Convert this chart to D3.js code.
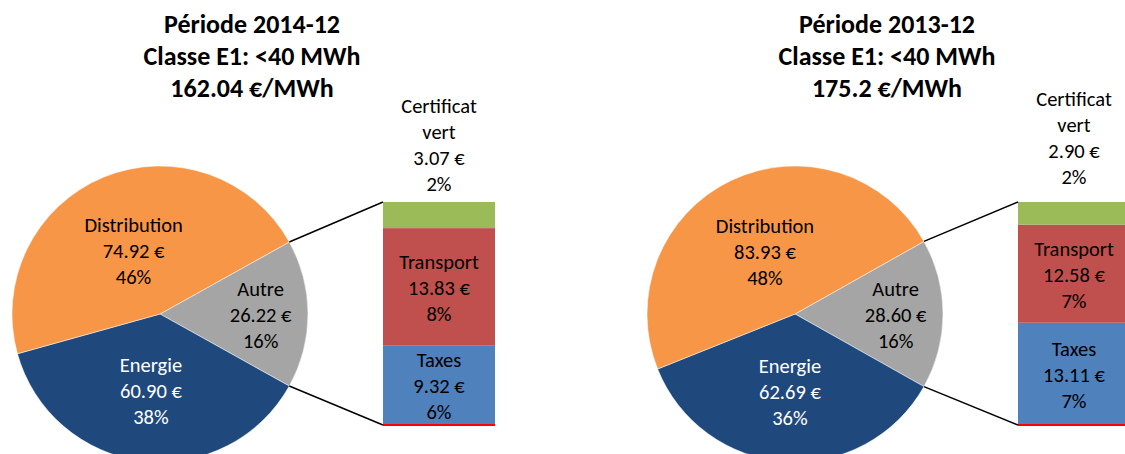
<!DOCTYPE html>
<html>
<head>
<meta charset="utf-8">
<script src="https://d3js.org/d3.v7.min.js"></script>
<style>
  body { margin: 0; background: white; }
  text { font-family: Calibri, Carlito, Lato, "Liberation Sans", sans-serif; }
</style>
</head>
<body>
<svg id="chart" width="1125" height="454"></svg>
<script>
// pie categories (Autre is exploded into the bar)
var categories = ["Autre", "Energie", "Distribution"];
var values2014 = [26.22, 60.90, 74.92];
var values2013 = [28.60, 62.69, 83.93];
var pct2014 = ["16%", "38%", "46%"];
var pct2013 = ["16%", "36%", "48%"];

// bar categories, bottom to top
var barCategories = ["Taxes", "Transport", "Certificat vert"];
var bar2014 = [9.32, 13.83, 3.07];
var bar2013 = [13.11, 12.58, 2.90];
var barPct2014 = ["6%", "8%", "2%"];
var barPct2013 = ["7%", "7%", "2%"];

var titles2014 = ["Période 2014-12", "Classe E1: <40 MWh", "162.04 €/MWh"];
var titles2013 = ["Période 2013-12", "Classe E1: <40 MWh", "175.2 €/MWh"];

var colors = {
  "Distribution": "#F79646", "Energie": "#1F497D", "Autre": "#A5A5A5",
  "Taxes": "#4F81BD", "Transport": "#C0504D", "Certificat vert": "#9BBB59"
};
var textColors = { "Energie": "white" };
// how far out from the centre the pie labels sit (fraction of radius)
var labelRadius = { "Distribution": 0.47, "Energie": 0.52, "Autre": 0.68 };

var svg = d3.select("#chart");
var fmt = d3.format(".2f");
var R = 148, cy = 314, FS = 20.5, LH = 26;

function drawChart(cx, titles, values, pcts, barVals, barPcts, certShift) {
  var g = svg.append("g");

  // title
  var t = g.append("text").attr("text-anchor", "middle")
    .attr("font-size", 26).attr("font-weight", "bold");
  titles.forEach(function(s, i) {
    t.append("tspan").attr("x", cx + 92).attr("y", 33 + i * 32).text(s);
  });

  // pie, Autre centred on 3 o'clock
  var autreAngle = 2 * Math.PI * values[0] / d3.sum(values);
  var start = Math.PI / 2 - autreAngle / 2;
  var pie = d3.pie().sort(null).startAngle(start).endAngle(start + 2 * Math.PI);
  var arcs = pie(values);
  var arc = d3.arc().innerRadius(0).outerRadius(R);

  var pg = g.append("g").attr("transform", "translate(" + cx + "," + cy + ")");
  pg.selectAll("path").data(arcs).enter().append("path")
    .attr("d", arc)
    .attr("fill", function(d, i) { return colors[categories[i]]; })
    .attr("stroke", "white").attr("stroke-width", 0.5);

  pg.selectAll("text.lbl").data(arcs).enter().append("text")
    .attr("class", "lbl")
    .attr("text-anchor", "middle").attr("font-size", FS)
    .attr("fill", function(d, i) { return textColors[categories[i]] || "black"; })
    .each(function(d, i) {
      var lr = labelRadius[categories[i]] * R;
      var c = d3.arc().innerRadius(lr).outerRadius(lr).centroid(d);
      var el = d3.select(this);
      [categories[i], fmt(d.data) + " €", pcts[i]].forEach(function(s, k) {
        el.append("tspan").attr("x", c[0]).attr("y", c[1] + 8 + (k - 1) * LH).text(s);
      });
    });

  // stacked bar
  var bx = cx + 223, bw = 112;
  var y = d3.scaleLinear().domain([0, d3.sum(barVals)]).range([425, 202]);
  var cum = 0;
  var stack = barVals.map(function(v, i) {
    var o = { name: barCategories[i], v0: cum, v1: cum + v, v: v, pct: barPcts[i] };
    cum += v;
    return o;
  });
  g.selectAll("rect.seg").data(stack).enter().append("rect")
    .attr("class", "seg")
    .attr("x", bx).attr("width", bw)
    .attr("y", function(d) { return y(d.v1); })
    .attr("height", function(d) { return y(d.v0) - y(d.v1); })
    .attr("fill", function(d) { return colors[d.name]; });

  g.append("line").attr("x1", bx).attr("x2", bx + bw)
    .attr("y1", y(0)).attr("y2", y(0))
    .attr("stroke", "#FF0000").attr("stroke-width", 2);

  stack.forEach(function(d) {
    var el = g.append("text").attr("text-anchor", "middle").attr("font-size", FS).attr("fill", "black");
    var lines = d.name === "Certificat vert"
      ? ["Certificat", "vert", fmt(d.v) + " €", d.pct]
      : [d.name, fmt(d.v) + " €", d.pct];
    var baseY;
    if (d.name === "Certificat vert") {
      baseY = y(d.v1) - 11 - certShift - (lines.length - 1) * LH;
    } else {
      baseY = (y(d.v0) + y(d.v1)) / 2 + 8 - LH;
    }
    lines.forEach(function(s, k) {
      el.append("tspan").attr("x", bx + bw / 2).attr("y", baseY + k * LH).text(s);
    });
  });

  // connector lines from the Autre slice to the bar
  var a0 = arcs[0].startAngle, a1 = arcs[0].endAngle;
  [[a0, d3.sum(barVals)], [a1, 0]].forEach(function(p) {
    g.append("line")
      .attr("x1", cx + R * Math.sin(p[0])).attr("y1", cy - R * Math.cos(p[0]))
      .attr("x2", bx).attr("y2", y(p[1]))
      .attr("stroke", "black").attr("stroke-width", 1.5);
  });
}

drawChart(160, titles2014, values2014, pct2014, bar2014, barPct2014, 0);
drawChart(795, titles2013, values2013, pct2013, bar2013, barPct2013, 7);
</script>
</body>
</html>
